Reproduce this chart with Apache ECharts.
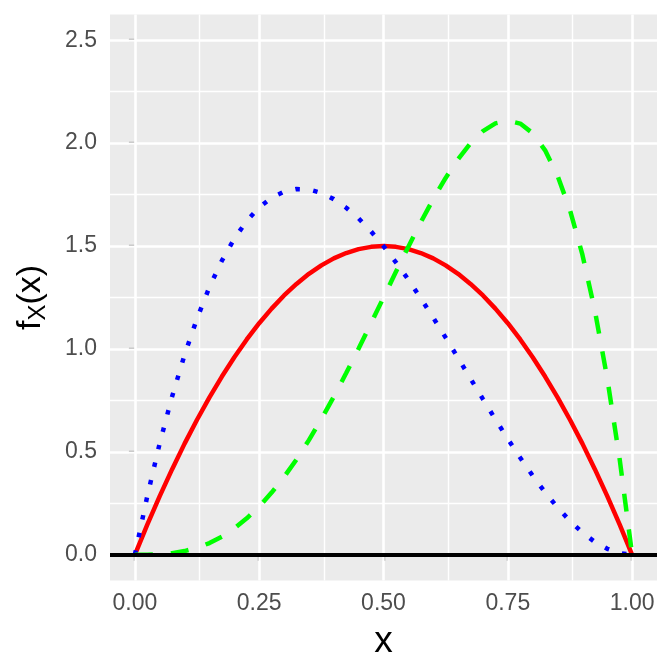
<!DOCTYPE html>
<html>
<head>
<meta charset="utf-8">
<script src="https://cdn.jsdelivr.net/npm/echarts@6/dist/echarts.min.js"></script>
<style>
  html, body { margin: 0; padding: 0; background: #fff; }
  #chart { width: 672px; height: 672px; }
</style>
</head>
<body>
<div id="chart"></div>
<script>
// x 取样点
const xs = [0, 0.025, 0.05, 0.075, 0.1, 0.125, 0.15, 0.175, 0.2, 0.225, 0.25, 0.275, 0.3, 0.325, 0.35,
  0.375, 0.4, 0.425, 0.45, 0.475, 0.5, 0.525, 0.55, 0.575, 0.6, 0.625, 0.65, 0.675, 0.7, 0.725, 0.75,
  0.775, 0.8, 0.825, 0.85, 0.875, 0.9, 0.925, 0.95, 0.975, 1];

// 红色实线
const redVals = [0, 0.146, 0.285, 0.416, 0.54, 0.656, 0.765, 0.866, 0.96, 1.046, 1.125, 1.196, 1.26, 1.316, 1.365,
  1.406, 1.44, 1.466, 1.485, 1.496, 1.5, 1.496, 1.485, 1.466, 1.44, 1.406, 1.365, 1.316, 1.26, 1.196, 1.125,
  1.046, 0.96, 0.866, 0.765, 0.656, 0.54, 0.416, 0.285, 0.146, 0];

// 蓝色点线
const blueVals = [0, 0.285, 0.542, 0.77, 0.972, 1.148, 1.301, 1.429, 1.536, 1.622, 1.688, 1.735, 1.764, 1.777, 1.775,
  1.758, 1.728, 1.686, 1.634, 1.571, 1.5, 1.421, 1.337, 1.246, 1.152, 1.055, 0.956, 0.856, 0.756, 0.658, 0.563,
  0.471, 0.384, 0.303, 0.23, 0.164, 0.108, 0.062, 0.029, 0.007, 0];

// 绿色虚线
const greenVals = [0, 0.0003, 0.0024, 0.0078, 0.018, 0.034, 0.057, 0.088, 0.128, 0.177, 0.234, 0.302, 0.378, 0.463, 0.557,
  0.659, 0.768, 0.883, 1.002, 1.125, 1.25, 1.375, 1.497, 1.616, 1.728, 1.831, 1.922, 1.999, 2.058, 2.096, 2.109,
  2.095, 2.048, 1.965, 1.842, 1.675, 1.458, 1.187, 0.857, 0.463, 0];

// 刻度
const xTicks = [0, 0.25, 0.5, 0.75, 1];
const xMinor = [0.125, 0.375, 0.625, 0.875];
const yTicks = [0, 0.5, 1, 1.5, 2, 2.5];
const yMinor = [0.25, 0.75, 1.25, 1.75, 2.25];

const pairs = vals => xs.map((x, i) => [x, vals[i]]);

// 网格线用 markLine 画（z 放到曲线下面）
function gridLines(values, dim, width) {
  return {
    type: 'line',
    data: [],
    silent: true,
    z: 1,
    markLine: {
      z: 1,
      silent: true,
      animation: false,
      symbol: ['none', 'none'],
      label: { show: false },
      lineStyle: { color: '#ffffff', width: width, type: 'solid' },
      emphasis: { disabled: true },
      data: values.map(v => ({ [dim]: v }))
    }
  };
}

const fontFam = 'Liberation Sans, Arial, sans-serif';
const tickFont = { fontFamily: fontFam, fontSize: 23, color: '#4D4D4D' };

let chartConfig = {
  animation: false,
  grid: {
    left: 110,
    right: 15,
    top: 14.5,
    bottom: 91.5,
    show: true,
    backgroundColor: '#EBEBEB',
    borderWidth: 0
  },
  xAxis: {
    type: 'value',
    min: -0.05,
    max: 1.05,
    name: 'x',
    nameLocation: 'middle',
    nameGap: 38,
    nameTextStyle: { fontFamily: fontFam, fontSize: 37, color: '#000', lineHeight: 42 },
    axisLine: { show: false },
    axisTick: { show: true, customValues: xTicks, length: 6, lineStyle: { color: '#333333', width: 2.2 } },
    axisLabel: Object.assign({ customValues: xTicks, margin: 12, formatter: v => v.toFixed(2) }, tickFont),
    splitLine: { show: false }
  },
  yAxis: {
    type: 'value',
    min: -0.125,
    max: 2.625,
    name: 'f{s|X}(x)',
    nameLocation: 'middle',
    nameRotate: 90,
    nameGap: 60,
    nameTextStyle: {
      fontFamily: fontFam, fontSize: 34, color: '#000', lineHeight: 38,
      rich: {
        s: { fontFamily: fontFam, fontSize: 24, color: '#000', lineHeight: 10, verticalAlign: 'bottom' }
      }
    },
    axisLine: { show: false },
    axisTick: { show: true, customValues: yTicks, length: 6, lineStyle: { color: '#333333', width: 2.2 } },
    axisLabel: Object.assign({ customValues: yTicks, margin: 13, formatter: v => v.toFixed(1) }, tickFont),
    splitLine: { show: false }
  },
  series: [
    gridLines(xMinor, 'xAxis', 1.4),
    gridLines(yMinor, 'yAxis', 1.4),
    gridLines(xTicks, 'xAxis', 2.6),
    gridLines(yTicks, 'yAxis', 2.6),
    {
      name: 'red',
      type: 'line',
      data: pairs(redVals),
      showSymbol: false,
      z: 3,
      lineStyle: { color: '#FF0000', width: 4.5 }
    },
    {
      name: 'blue',
      type: 'line',
      data: pairs(blueVals),
      showSymbol: false,
      z: 3,
      lineStyle: { color: '#0000FF', width: 4.5, type: [4.5, 13.5], cap: 'butt' }
    },
    {
      name: 'green',
      type: 'line',
      data: pairs(greenVals),
      showSymbol: false,
      z: 3,
      lineStyle: { color: '#00FF00', width: 4.5, type: [18, 18], cap: 'butt' }
    },
    {
      name: 'zero',
      type: 'line',
      data: [],
      silent: true,
      z: 10,
      markLine: {
        z: 10,
        silent: true,
        animation: false,
        symbol: ['none', 'none'],
        label: { show: false },
        lineStyle: { color: '#000000', width: 4, type: 'solid' },
        data: [{ yAxis: 0 }]
      }
    }
  ]
};

let chart = echarts.init(document.getElementById('chart'));
chart.setOption(chartConfig);
window.addEventListener('resize', function () {
  chart.resize();
});
</script>
</body>
</html>
